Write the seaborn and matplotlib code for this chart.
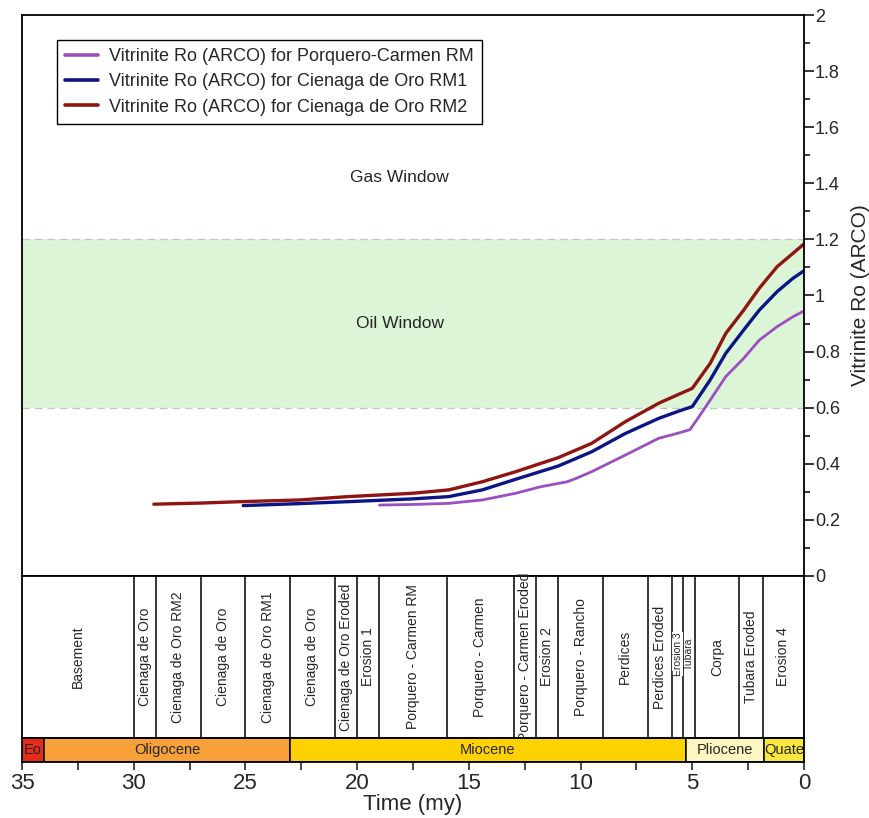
# import libraries
import numpy as np
import pandas as pd
import matplotlib.pyplot as plt
import seaborn as sns
from matplotlib.ticker import MultipleLocator, FuncFormatter

sns.set_style("white")
plt.rcParams["font.family"] = ["Liberation Sans", "DejaVu Sans"]

# vitrinite reflectance curves (time in my, Ro in %)
t_pc = [19.0, 17.5, 15.9, 14.4, 12.9, 11.8, 10.6, 10.2, 9.5, 8.0, 6.5, 5.6, 5.1, 4.7, 4.2, 3.5, 2.7, 2.0, 1.2, 0.5, 0.0]
ro_pc = [0.253, 0.255, 0.259, 0.271, 0.295, 0.318, 0.336, 0.348, 0.372, 0.431, 0.491, 0.510, 0.522, 0.568, 0.627, 0.711, 0.776, 0.841, 0.889, 0.924, 0.945]

t_rm1 = [25.1, 22.6, 20.4, 17.5, 15.9, 14.4, 12.9, 11.0, 9.5, 8.0, 6.5, 5.6, 5.0, 4.2, 3.5, 2.7, 2.0, 1.2, 0.5, 0.0]
ro_rm1 = [0.251, 0.258, 0.265, 0.275, 0.283, 0.307, 0.345, 0.392, 0.443, 0.508, 0.562, 0.588, 0.604, 0.699, 0.794, 0.877, 0.948, 1.014, 1.061, 1.088]

t_rm2 = [29.1, 27.0, 25.2, 22.6, 20.4, 17.5, 15.9, 14.4, 12.9, 11.0, 9.5, 8.0, 6.5, 5.6, 5.0, 4.2, 3.5, 2.7, 2.0, 1.2, 0.5, 0.0]
ro_rm2 = [0.256, 0.260, 0.265, 0.271, 0.283, 0.295, 0.307, 0.336, 0.372, 0.422, 0.473, 0.550, 0.616, 0.648, 0.669, 0.758, 0.865, 0.948, 1.026, 1.103, 1.150, 1.184]

series_names = ["Vitrinite Ro (ARCO) for Porquero-Carmen RM",
                "Vitrinite Ro (ARCO) for Cienaga de Oro RM1",
                "Vitrinite Ro (ARCO) for Cienaga de Oro RM2"]
series_colors = ["#9b4fc0", "#0c1585", "#8e1512"]

# formations (oldest -> youngest), boundaries in my
formation_names = ["Basement", "Cienaga de Oro", "Cienaga de Oro RM2", "Cienaga de Oro", "Cienaga de Oro RM1",
                   "Cienaga de Oro", "Cienaga de Oro Eroded", "Erosion 1", "Porquero - Carmen RM",
                   "Porquero - Carmen", "Porquero - Carmen Eroded", "Erosion 2", "Porquero - Rancho",
                   "Perdices", "Perdices Eroded", "Erosion 3", "Tubara", "Corpa", "Tubara Eroded", "Erosion 4"]
formation_start = [35, 30, 29, 27, 25, 23, 21, 20, 19, 16, 13, 12, 11, 9, 7, 5.9, 5.4, 4.9, 2.9, 1.85]
formation_end = [30, 29, 27, 25, 23, 21, 20, 19, 16, 13, 12, 11, 9, 7, 5.9, 5.4, 4.9, 2.9, 1.85, 0]

# epochs
epoch_names = ["Eo", "Oligocene", "Miocene", "Pliocene", "Quate"]
epoch_start = [35, 34.0, 23.0, 5.3, 1.8]
epoch_end = [34.0, 23.0, 5.3, 1.8, 0]
epoch_colors = ["#e62a1c", "#f8a03a", "#fdd200", "#fef6c2", "#f9e63e"]

# long-form table for seaborn
data = pd.concat([
    pd.DataFrame({"Time": t_pc, "Ro": ro_pc, "Series": series_names[0]}),
    pd.DataFrame({"Time": t_rm1, "Ro": ro_rm1, "Series": series_names[1]}),
    pd.DataFrame({"Time": t_rm2, "Ro": ro_rm2, "Series": series_names[2]}),
], ignore_index=True)

fig = plt.figure(figsize=(8.69, 8.18), dpi=100)
W, H = 869, 818
left, right = 22 / W, 804 / W
ax = fig.add_axes([left, 1 - 576 / H, right - left, (576 - 15) / H])
ax_f = fig.add_axes([left, 1 - 738 / H, right - left, (738 - 576) / H])
ax_e = fig.add_axes([left, 1 - 762 / H, right - left, (762 - 738) / H])

# oil window band
ax.axhspan(0.6, 1.2, facecolor="#dcf5d6", edgecolor="none", linewidth=0, zorder=0)
ax.axhline(0.6, color="#c4c4c4", ls=(0, (6, 4)), lw=0.9, zorder=1)
ax.axhline(1.2, color="#c4c4c4", ls=(0, (6, 4)), lw=0.9, zorder=1)

sns.lineplot(data=data, x="Time", y="Ro", hue="Series", palette=series_colors,
             linewidth=2.4, sort=False, estimator=None, ax=ax)
ax.lines[2].set_linewidth(2.0)

ax.text(18.1, 1.42, "Gas Window", ha="center", va="center", fontsize=12.5)
ax.text(18.1, 0.90, "Oil Window", ha="center", va="center", fontsize=12.5)

ax.set_xlim(35, 0)
ax.set_ylim(0, 2)
ax.set_xticks([])
ax.set_xlabel("")
ax.yaxis.tick_right()
ax.yaxis.set_label_position("right")
ax.yaxis.set_major_locator(MultipleLocator(0.2))
ax.yaxis.set_minor_locator(MultipleLocator(0.1))
ax.yaxis.set_major_formatter(FuncFormatter(lambda v, p: "%g" % round(v, 1)))
ax.tick_params(axis="y", which="major", direction="out", length=7, width=1.3, labelsize=13, pad=1)
ax.tick_params(axis="y", which="minor", direction="out", length=4, width=1.3)
ax.set_ylabel("Vitrinite Ro (ARCO)", fontsize=15, labelpad=8)
for s in ax.spines.values():
    s.set_color("black")
    s.set_linewidth(1.3)

leg = ax.legend(loc="upper left", bbox_to_anchor=(0.045, 0.955), borderaxespad=0, fontsize=13,
                frameon=True, fancybox=False, framealpha=1, edgecolor="black",
                handlelength=1.8, handletextpad=0.6, labelspacing=0.45, borderpad=0.45)
leg.get_frame().set_linewidth(1.0)
for h in leg.get_lines():
    h.set_linewidth(2.6)

# formation strip
ax_f.set_xlim(35, 0)
ax_f.set_ylim(0, 1)
for name, a, b in zip(formation_names, formation_start, formation_end):
    ax_f.axvline(b, color="black", lw=1.1)
    mid = (a + b) / 2
    if name in ("Erosion 3", "Tubara"):
        ax_f.text(mid, 0.52, name, rotation=90, ha="center", va="center", fontsize=7.5,
                  bbox=dict(facecolor="white", edgecolor="none", pad=0.3))
    else:
        ax_f.text(mid, 0.5, name, rotation=90, ha="center", va="center", fontsize=10)
ax_f.set_xticks([])
ax_f.set_yticks([])
for s in ax_f.spines.values():
    s.set_linewidth(1.3)
    s.set_color("black")

# epoch strip
ax_e.barh([0.5] * len(epoch_names), [a - b for a, b in zip(epoch_start, epoch_end)], left=epoch_end,
          height=1, color=epoch_colors, edgecolor="black", linewidth=1.1)
for name, a, b in zip(epoch_names, epoch_start, epoch_end):
    ax_e.text((a + b) / 2, 0.5, name, ha="center", va="center", fontsize=10.5)
ax_e.set_xlim(35, 0)
ax_e.set_ylim(0, 1)
ax_e.set_yticks([])
ax_e.xaxis.set_major_locator(MultipleLocator(5))
ax_e.xaxis.set_minor_locator(MultipleLocator(2.5))
ax_e.tick_params(axis="x", which="both", direction="out", length=6, width=1.2, labelsize=16, pad=2, bottom=True)
ax_e.set_xlabel("Time (my)", fontsize=16, labelpad=0)
for s in ax_e.spines.values():
    s.set_linewidth(1.3)
    s.set_color("black")

fig.savefig("out.png", dpi=100)
